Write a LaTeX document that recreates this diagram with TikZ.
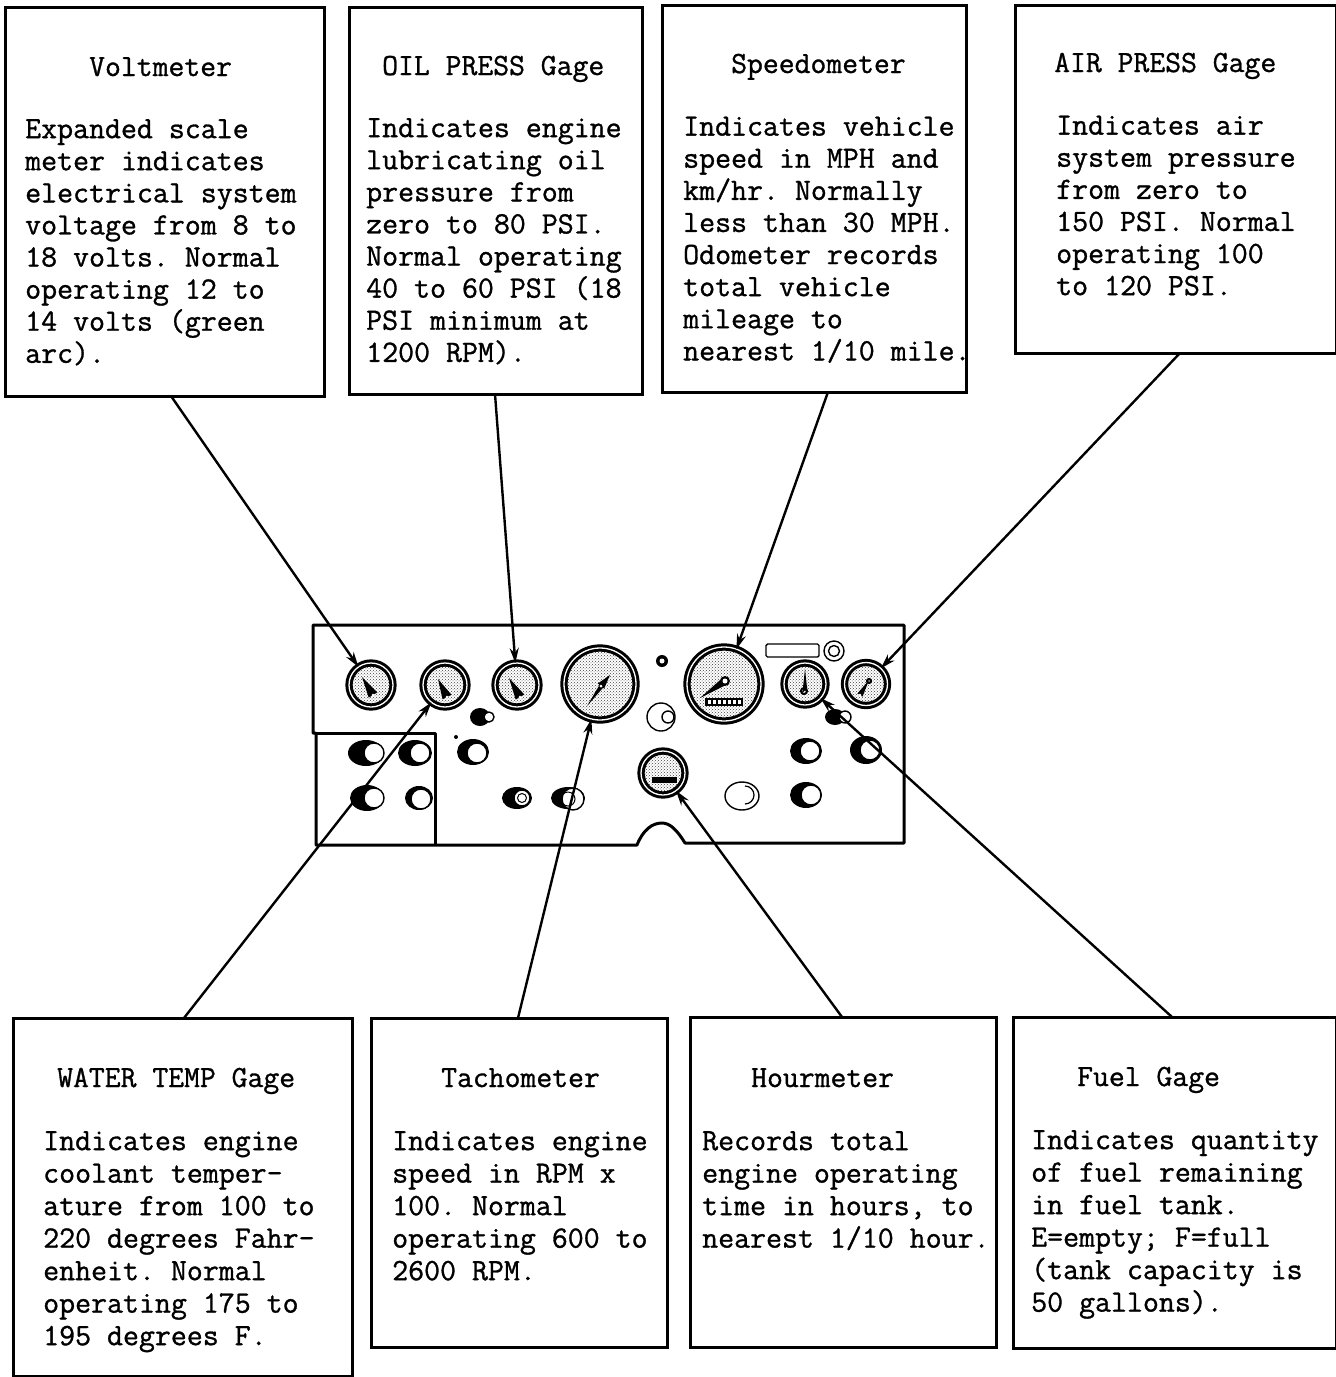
\documentclass[tikz,border=0pt]{standalone}
\usepackage{fontspec}
\newfontfamily\typefont{Latin Modern Mono}[FakeBold=1]
\usetikzlibrary{arrows.meta,calc,patterns}
\tikzset{
  panelbox/.style={draw=black,line width=3pt,fill=white,rectangle,anchor=north west,inner sep=0pt,outer sep=0pt},
  titletext/.style={anchor=base west,inner sep=0pt,font=\fontsize{30.8}{32}\selectfont\typefont\frenchspacing},
  bodytext/.style={anchor=north west,inner sep=0pt,align=left,font=\fontsize{31}{32.1}\selectfont\typefont\frenchspacing},
  bodytextlow/.style={bodytext,font=\fontsize{31}{32.5}\selectfont\typefont\frenchspacing},
  gauge/.style={circle,draw=black,line width=3pt,double=white,double distance=1.3pt,inner sep=0pt,outer sep=0pt,
    pattern=crosshatch dots,pattern color=black!75},
  callout/.style={draw=black,line width=2.4pt,-{Stealth[length=15pt,width=9pt]}},
  outline/.style={draw=black,line width=3pt,line join=round},
  faint/.style={draw=black,line width=1.4pt,fill=white},
}
\newcommand{\knobshape}[7]{% black cx,cy,rx,ry; white cx,cy,r
  \fill[black] (#1,#2) ellipse [x radius=#3,y radius=#4];
  \draw[fill=white,line width=1.4pt] (#5,#6) circle [radius=#7];
}
\newcommand{\needleshape}[5]{% tip x,y; base x,y; half width
  \coordinate (ntip) at (#1,#2);
  \coordinate (nbase) at (#3,#4);
  \fill[black] (ntip) -- ($(nbase)!#5pt!90:(ntip)$) -- ($(nbase)!#5pt!-90:(ntip)$) -- cycle;
  \fill[white] (nbase) circle [radius=1.5];
}
\begin{document}
\begin{tikzpicture}[x=1pt,y=-1pt]
\path[use as bounding box,fill=white] (0,0) rectangle (1336,1377);

% instrument panel
\draw[outline] (313,625) -- (904,625) -- (904,843) -- (685,843)
  .. controls (677,830) and (670,823) .. (662,823)
  .. controls (652,823) and (643,830) .. (637,845)
  -- (316,845) -- (316,733) -- (313,733) -- cycle;
\draw[outline] (316,733) -- (435,733) -- (435,845);

% knobs and small fittings
\knobshape{366}{753}{18}{13}{374}{753}{10}
\knobshape{415}{753}{17}{13}{420}{753}{10}
\knobshape{367}{798}{17}{13}{374}{798}{10}
\knobshape{419}{798}{14}{12}{421}{799}{10}
\knobshape{473}{752}{16}{13}{477}{753}{10}
\knobshape{480}{717}{10}{9}{489}{717}{5}
\fill[black] (456,737) circle [radius=2];
\knobshape{517}{798}{15}{11}{522}{798}{8}
\draw[line width=1pt] (522,798) circle [radius=4.5];
\knobshape{568}{798}{17}{11}{573}{799}{11}
\draw[line width=1pt] (568,799) circle [radius=7];
\knobshape{806}{751}{16}{13}{810}{751}{10}
\knobshape{866}{750}{16}{14}{870}{750}{10}
\knobshape{806}{795}{16}{13}{811}{795}{10}
\knobshape{835}{717}{10}{8}{845}{717}{6}
\draw[faint] (742,796) ellipse [x radius=17,y radius=14];
\draw[line width=1.2pt] (745,786) arc [start angle=-90,end angle=90,radius=9];
\draw[faint] (661,717) circle [radius=14];
\draw[faint] (668,717) circle [radius=6];
\draw[faint,rounded corners=1.5pt] (766,644) rectangle (819,657);
\draw[faint] (834,651) circle [radius=10];
\draw[faint] (834,651) circle [radius=5.5];
\fill[black] (662,661) circle [radius=6];
\fill[white] (662,661) circle [radius=2.5];

% gauges
\node[gauge,minimum size=44pt] (gvolt) at (371,685) {};
\node[gauge,minimum size=44pt] (gwater) at (445,685) {};
\node[gauge,minimum size=44pt] (goil) at (517,685) {};
\node[gauge,minimum size=72pt] (gtach) at (600,684) {};
\node[gauge,minimum size=74pt] (gspeed) at (724,684) {};
\node[gauge,minimum size=42pt] (gfuel) at (805,684) {};
\node[gauge,minimum size=43pt] (gair) at (866,684) {};
\node[gauge,minimum size=44pt] (ghour) at (663,773) {};

% needles and dials
\needleshape{362}{677}{373}{695}{5}
\needleshape{438}{679}{447}{697}{5}
\needleshape{509}{678}{520}{697}{5}
\needleshape{587}{706}{603}{684}{2.5}
\needleshape{610}{675}{601}{686}{4}
\needleshape{700}{698}{725}{681}{4}
\fill[black] (725,681) circle [radius=5];
\fill[white] (725,681) circle [radius=2.5];
\fill[black] (705,698) rectangle (743,706);
\foreach \tickx in {708,713,718,723,728,733,738}{\fill[white] (\tickx,700) rectangle ++(2.5,4);}
\needleshape{805}{669}{805}{692}{2.5}
\draw[black,line width=2pt] (804,691) circle [radius=3];
\needleshape{869}{680}{860}{695}{3}
\draw[black,line width=2pt] (869,681) circle [radius=2];
\fill[black] (652,777) rectangle (677,783);

% callout boxes, top row
\node[panelbox,minimum width=319pt,minimum height=389pt] (voltbox) at (5,7) {};
\node[panelbox,minimum width=293pt,minimum height=387pt] (oilbox) at (349,7) {};
\node[panelbox,minimum width=304pt,minimum height=387pt] (speedbox) at (662,5) {};
\node[panelbox,minimum width=321pt,minimum height=348pt] (airbox) at (1015,5) {};
% callout boxes, bottom row
\node[panelbox,minimum width=339pt,minimum height=358pt] (waterbox) at (13,1018) {};
\node[panelbox,minimum width=296pt,minimum height=329pt] (tachbox) at (371,1018) {};
\node[panelbox,minimum width=306pt,minimum height=330pt] (hourbox) at (690,1017) {};
\node[panelbox,minimum width=323pt,minimum height=331pt] (fuelbox) at (1013,1017) {};

% titles
\node[titletext] (volttitle) at (89,76) {Voltmeter};
\node[titletext] (oiltitle) at (382,75) {OIL PRESS Gage};
\node[titletext] (speedtitle) at (731,73) {Speedometer};
\node[titletext] (airtitle) at (1054,72) {AIR PRESS Gage};
\node[titletext] (watertitle) at (57,1087) {WATER TEMP Gage};
\node[titletext] (tachtitle) at (441,1087) {Tachometer};
\node[titletext] (hourtitle) at (751,1087) {Hourmeter};
\node[titletext] (fueltitle) at (1077,1086) {Fuel Gage};

% descriptions
\node[bodytext] (voltbody) at (25,119) {Expanded scale\\meter indicates\\electrical system\\voltage from 8 to\\18 volts. Normal\\operating 12 to\\14 volts (green\\arc).};
\node[bodytext] (oilbody) at (366,118) {Indicates engine\\lubricating oil\\pressure from\\zero to 80 PSI.\\Normal operating\\40 to 60 PSI (18\\PSI minimum at\\1200 RPM).};
\node[bodytext] (speedbody) at (683,116.5) {Indicates vehicle\\speed in MPH and\\km/hr. Normally\\less than 30 MPH.\\Odometer records\\total vehicle\\mileage to\\nearest 1/10 mile.};
\node[bodytext] (airbody) at (1056,115.5) {Indicates air\\system pressure\\from zero to\\150 PSI. Normal\\operating 100\\to 120 PSI.};
\node[bodytextlow] (waterbody) at (43,1131) {Indicates engine\\coolant temper-\\ature from 100 to\\220 degrees Fahr-\\enheit. Normal\\operating 175 to\\195 degrees F.};
\node[bodytextlow] (tachbody) at (392,1131) {Indicates engine\\speed in RPM x\\100. Normal\\operating 600 to\\2600 RPM.};
\node[bodytextlow] (hourbody) at (702,1131) {Records total\\engine operating\\time in hours, to\\nearest 1/10 hour.};
\node[bodytextlow] (fuelbody) at (1031,1130) {Indicates quantity\\of fuel remaining\\in fuel tank.\\E=empty; F=full\\(tank capacity is\\50 gallons).};

% connector ends on box edges
\coordinate (voltout) at (171,396);
\coordinate (oilout) at (495,394);
\coordinate (speedout) at (828,392);
\coordinate (airout) at (1180,353);
\coordinate (waterout) at (184,1018);
\coordinate (tachout) at (518,1018);
\coordinate (hourout) at (842,1017);
\coordinate (fuelout) at (1172,1017);

% connectors
\draw[callout] (voltout) -- (gvolt);
\draw[callout] (oilout) -- (goil);
\draw[callout] (speedout) -- (gspeed);
\draw[callout] (airout) -- (gair);
\draw[callout] (waterout) -- (gwater);
\draw[callout] (tachout) -- (gtach);
\draw[callout] (hourout) -- (ghour);
\draw[callout] (fuelout) -- (gfuel);
\end{tikzpicture}
\end{document}
